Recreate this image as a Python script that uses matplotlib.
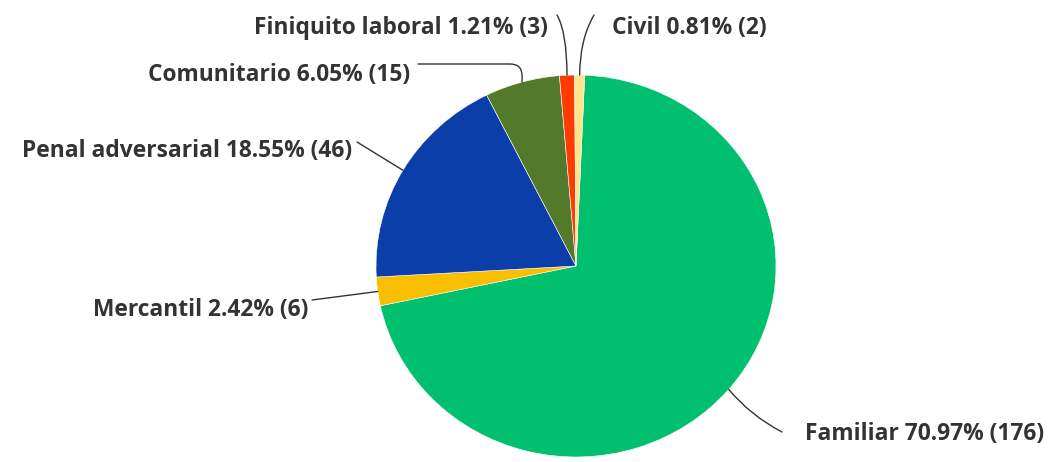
import matplotlib
matplotlib.use("Agg")
import matplotlib.pyplot as plt
import numpy as np

# data
names = ["Familiar", "Mercantil", "Penal adversarial", "Comunitario",
         "Finiquito laboral", "Civil"]
counts = [176, 6, 46, 15, 3, 2]
colors = ["#00bf6f", "#f9be00", "#0b3ea8", "#527a2a", "#ff3b00", "#fde68a"]

total = sum(counts)
percents = [c / total * 100 for c in counts]
labels = [f"{n} {p:.2f}% ({c})" for n, p, c in zip(names, percents, counts)]

W, H = 1049, 462
rx, ry = 200, 191          # pie is slightly squashed in the reference
k = rx / ry                 # data units per pixel in y


def px(x, y):
    # image pixel (from top-left) -> data coords
    return x, (H - y) * k


fig = plt.figure(figsize=(W / 100, H / 100), dpi=100)
ax = fig.add_axes([0, 0, 1, 1])

cx, cy = px(576, 266)
wedges, _ = ax.pie(counts, colors=colors, startangle=87.5, counterclock=False,
                   center=(cx, cy), radius=rx,
                   wedgeprops=dict(linewidth=0.4, edgecolor="white"))
ax.set_xlim(0, W)
ax.set_ylim(0, H * k)
ax.set_aspect("auto")
ax.axis("off")

# label layout: (text x, baseline y, ha, line start x, line start y, connection)
layout = {
    "Familiar": (805, 440, "left", 782, 432, "arc3,rad=-0.1"),
    "Mercantil": (308, 316, "right", 312, 300, "arc3,rad=0"),
    "Penal adversarial": (352, 157, "right", 357, 142, "arc3,rad=0"),
    "Comunitario": (410, 81, "right", 418, 64, "angle,angleA=0,angleB=90,rad=12"),
    "Finiquito laboral": (548, 34, "right", 557, 15, "angle3,angleA=-60,angleB=90"),
    "Civil": (612, 34, "left", 594, 15, "angle3,angleA=-120,angleB=90"),
}

for w, name, lab in zip(wedges, names, labels):
    mid = np.deg2rad((w.theta1 + w.theta2) / 2)
    ex = cx + rx * np.cos(mid)
    ey = cy + rx * np.sin(mid)
    tx, ty, ha, lx, ly, conn = layout[name]
    ax.annotate("", xy=(ex, ey), xytext=px(lx, ly),
                arrowprops=dict(arrowstyle="-", color="#333333", lw=1.0,
                                shrinkA=0, shrinkB=0, connectionstyle=conn))
    ax.text(*px(tx, ty), lab, ha=ha, va="baseline", fontsize=16.4,
            fontfamily="Open Sans", fontweight="bold", color="#333333")

fig.savefig("out.png", dpi=100)
